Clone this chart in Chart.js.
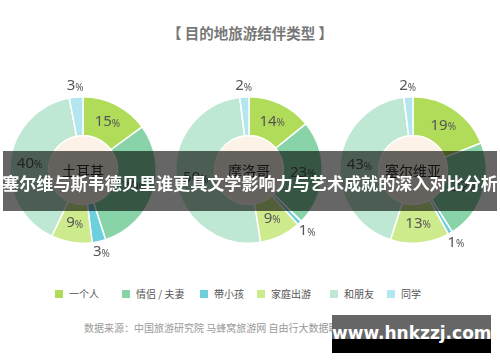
<!DOCTYPE html>
<html>
<head>
<meta charset="utf-8">
<script src="https://cdn.jsdelivr.net/npm/chart.js@4.4.1/dist/chart.umd.min.js"></script>
<style>
  html, body { margin: 0; padding: 0; background: #fff; width: 500px; height: 362px; overflow: hidden; position: relative; font-family: "Noto Sans CJK SC", "Noto Sans", sans-serif; }
  #title { position: absolute; left: 0; width: 500px; top: 22px; text-align: center; font-size: 14.5px; font-weight: bold; color: #777; }
  .pie { position: absolute; top: 80px; width: 180px; height: 180px; }
  #banner { position: absolute; left: 3px; width: 494px; top: 151px; height: 60px; background: rgba(0,0,0,0.6); }
  #bannerText { position: absolute; left: 0; width: 500px; top: 172px; text-align: center; color: #fff; font-weight: bold; font-size: 17.1px; white-space: nowrap; line-height: 22px; }
  #legend { position: absolute; left: 0; top: 287px; width: 500px; height: 14px; font-size: 10px; color: #555; line-height: 14px; }
  #legend .item { position: absolute; top: 0; display: flex; align-items: center; white-space: nowrap; }
  #legend .sw { width: 8px; height: 8px; margin-right: 6px; }
  #source { position: absolute; left: 84px; top: 320px; font-size: 10px; color: #999; white-space: nowrap; }
  #wm { position: absolute; left: 332px; top: 315px; width: 159px; height: 38px; background: linear-gradient(#666 0, #666 24px, #000 24px, #000 38px); color: #fff; font-weight: bold; font-size: 17px; font-family: "DejaVu Sans", sans-serif; text-align: center; line-height: 36px; }
</style>
</head>
<body>
<div id="title">【 目的地旅游结伴类型 】</div>
<canvas id="c1" class="pie" width="180" height="180" style="left:-7px"></canvas>
<canvas id="c2" class="pie" width="180" height="180" style="left:159px"></canvas>
<canvas id="c3" class="pie" width="180" height="180" style="left:323px"></canvas>
<div id="legend"></div>
<div id="source">数据来源：中国旅游研究院 马蜂窝旅游网 自由行大数据联合实验室</div>
<div id="banner"></div>
<div id="bannerText">塞尔维与斯韦德贝里谁更具文学影响力与艺术成就的深入对比分析</div>
<div id="wm">www.hnkzzj.com</div>
<script>
// 结伴类型
let types = ['一个人', '情侣 / 夫妻', '带小孩', '家庭出游', '和朋友', '同学'];
let colors = ['#b0dc5a', '#88d4a8', '#6fd0dd', '#cdea8c', '#bee8d3', '#b3e6ee'];

// 目的地
let places = ['土耳其', '摩洛哥', '塞尔维亚'];
let turkey = [15, 30, 3, 9, 40, 3];
let morocco = [14, 23, 1, 9, 50, 2];
let serbia = [19, 22, 1, 13, 43, 2];

// 图例每项的左边位置（布局用）
let legendLeft = [55, 122, 200, 257, 330, 387];

let pctLabels = {
  id: 'pctLabels',
  beforeDatasetsDraw(chart) {
    let arc = chart.getDatasetMeta(0).data[0];
    let ctx = chart.ctx;
    ctx.save();
    ctx.fillStyle = '#fcf2e8';
    ctx.beginPath();
    ctx.arc(arc.x, arc.y, arc.innerRadius, 0, Math.PI * 2);
    ctx.fill();
    ctx.restore();
  },
  afterDatasetsDraw(chart) {
    let ctx = chart.ctx;
    let meta = chart.getDatasetMeta(0);
    let vals = chart.data.datasets[0].data;
    ctx.save();
    ctx.textBaseline = 'middle';
    meta.data.forEach(function(a, i) {
      let mid = (a.startAngle + a.endAngle) / 2;
      let r = vals[i] > 5 ? (a.innerRadius + a.outerRadius) / 2 : a.outerRadius + 11;
      let x = a.x + Math.cos(mid) * r;
      let y = a.y + Math.sin(mid) * r;
      ctx.font = '15px "Noto Sans", sans-serif';
      let num = String(vals[i]);
      let w1 = ctx.measureText(num).width;
      ctx.font = '10px "Noto Sans", sans-serif';
      let w2 = ctx.measureText('%').width;
      let sx = x - (w1 + w2) / 2;
      ctx.fillStyle = '#555';
      ctx.textAlign = 'left';
      ctx.font = '15px "Noto Sans", sans-serif';
      ctx.fillText(num, sx, y);
      ctx.font = '10px "Noto Sans", sans-serif';
      ctx.fillText('%', sx + w1, y + 2);
    });
    let a0 = meta.data[0];
    ctx.fillStyle = '#333';
    ctx.textAlign = 'center';
    ctx.font = '14px "Noto Sans CJK SC", sans-serif';
    ctx.fillText(chart.options.plugins.centerName, a0.x, a0.y + 1);
    ctx.restore();
  }
};

function makePie(id, name, values) {
  return new Chart(document.getElementById(id), {
    type: 'doughnut',
    data: {
      labels: types,
      datasets: [{
        data: values,
        backgroundColor: colors,
        borderColor: '#fff',
        borderWidth: 1.5
      }]
    },
    options: {
      responsive: false,
      animation: false,
      cutout: '47%',
      layout: { padding: 16 },
      plugins: {
        legend: { display: false },
        tooltip: { enabled: false },
        centerName: name
      }
    },
    plugins: [pctLabels]
  });
}

makePie('c1', places[0], turkey);
makePie('c2', places[1], morocco);
makePie('c3', places[2], serbia);

let legend = document.getElementById('legend');
types.forEach(function(t, i) {
  let item = document.createElement('div');
  item.className = 'item';
  item.style.left = legendLeft[i] + 'px';
  item.innerHTML = '<span class="sw" style="background:' + colors[i] + '"></span>' + t;
  legend.appendChild(item);
});
</script>
</body>
</html>
